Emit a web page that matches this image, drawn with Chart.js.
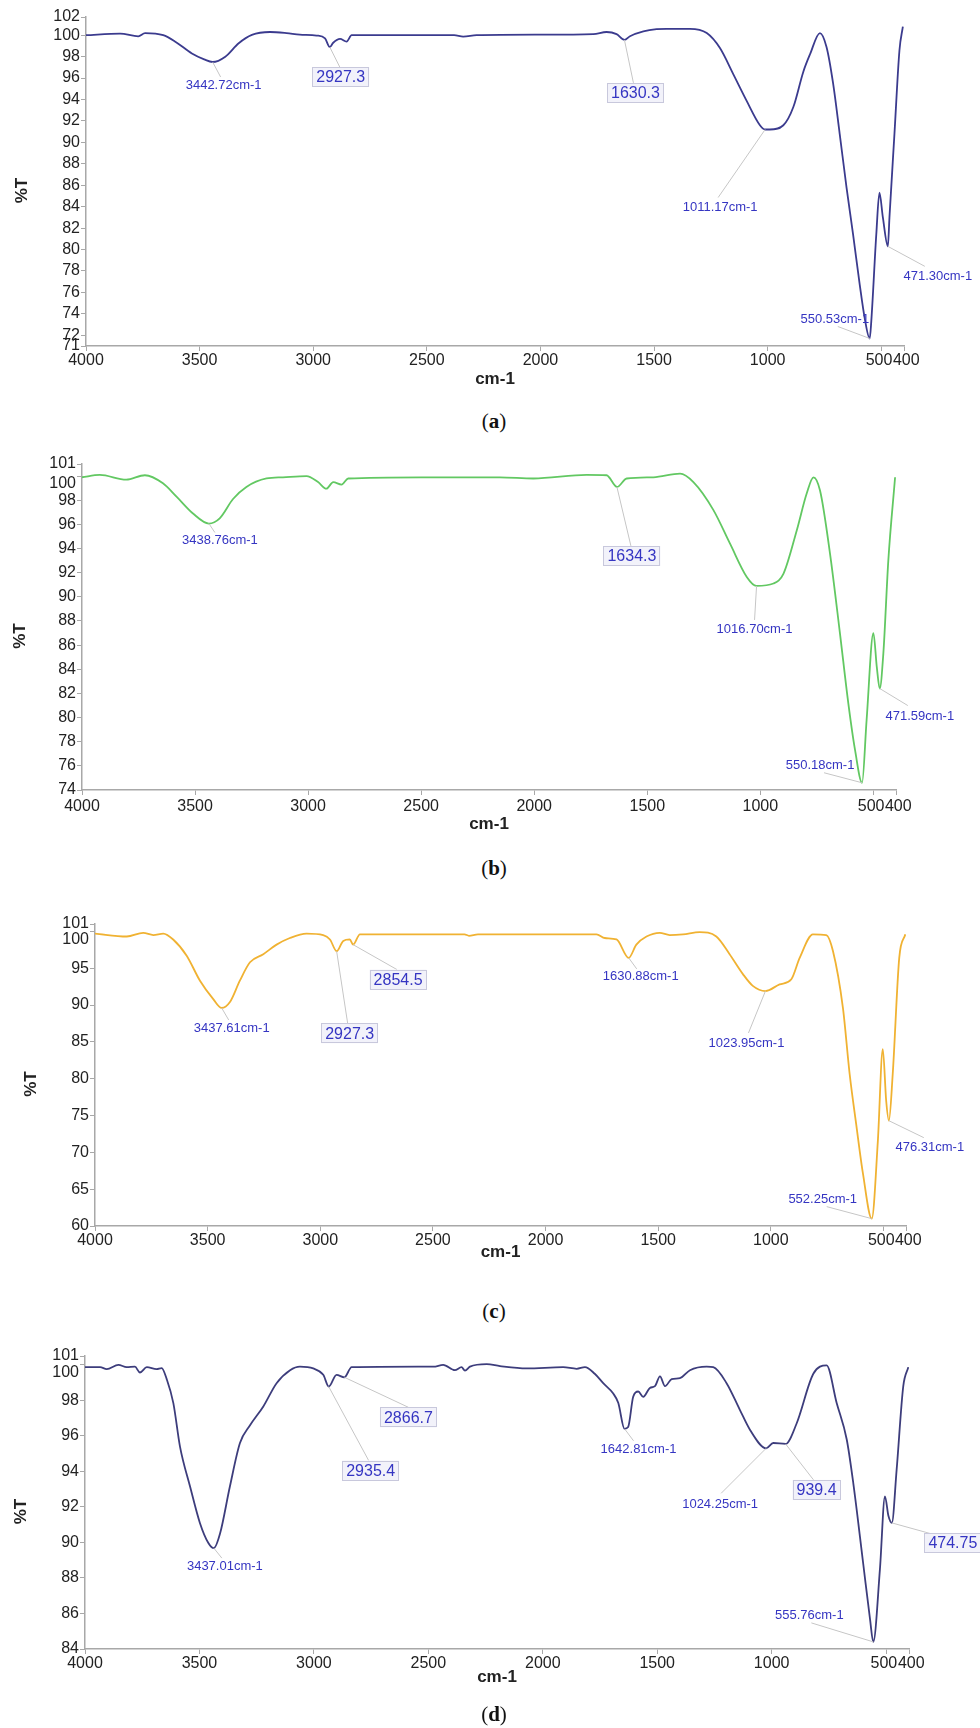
<!DOCTYPE html>
<html><head><meta charset="utf-8">
<script src="https://cdn.jsdelivr.net/npm/chart.js@4/dist/chart.umd.min.js"></script>
<style>
html,body{margin:0;padding:0;background:#fff}
body{width:980px;height:1728px;position:relative;overflow:hidden}
canvas{position:absolute;left:0}
.cap{position:absolute;left:0;width:988px;text-align:center;font-family:"Liberation Serif","Times New Roman",serif;font-size:21px;line-height:24px;color:#111}
</style></head><body>
<canvas id="ca" width="980" height="400" style="top:0px"></canvas>
<canvas id="cb" width="980" height="400" style="top:440px"></canvas>
<canvas id="cc" width="980" height="390" style="top:890px"></canvas>
<canvas id="cd" width="980" height="390" style="top:1330px"></canvas>
<div class="cap" style="top:409px">(<b>a</b>)</div>
<div class="cap" style="top:856px">(<b>b</b>)</div>
<div class="cap" style="top:1299px">(<b>c</b>)</div>
<div class="cap" style="top:1702px">(<b>d</b>)</div>
<script>
// ---------- data ----------
const xTicks = [4000,3500,3000,2500,2000,1500,1000,500,400];
const xTickText = ['4000','3500','3000','2500','2000','1500','1000','500 ',' 400'];

const wnA = [4000,3850,3770,3740,3660,3607,3534,3480,3443,3387,3328,3270,3190,3117,3059,2985,2948,2927,2912,2882,2853,2831,2600,2380,2340,2281,2000,1767,1709,1665,1630,1606,1547,1489,1445,1342,1268,1210,1152,1093,1034,1011,990,931,887,843,814,770,741,712,683,653,624,595,573,551,544,522,508,493,471,464,442,420,405];
const tA = [100.0,100.15,99.9,100.2,100.0,99.4,98.3,97.75,97.5,98.0,99.25,100.03,100.3,100.2,100.06,99.97,99.7,98.9,99.3,99.65,99.4,100.0,100.0,100.0,99.87,100.0,100.05,100.1,100.3,100.1,99.56,99.9,100.35,100.56,100.6,100.6,100.2,98.8,96.4,93.9,91.6,91.2,91.2,91.6,93.3,96.6,98.2,100.2,98.9,95.5,90.8,85.8,81.4,76.75,73.6,71.7,73.3,81.4,85.3,83.0,80.3,83.0,90.8,98.6,100.8];
const yTicksA = [71,72,74,76,78,80,82,84,86,88,90,92,94,96,98,100,101.7];
const yTextA = ['71','72','74','76','78','80','82','84','86','88','90','92','94','96','98','100','102'];
const peakWnA = [3442.72,2927.3,1630.3,1011.17,550.53,471.30];
const peakTA = [97.5,98.9,99.56,91.2,71.7,80.3];
const peakTextA = ['3442.72cm-1','2927.3','1630.3','1011.17cm-1','550.53cm-1','471.30cm-1'];

const wnB = [4000,3921,3804,3722,3642,3582,3509,3439,3391,3332,3273,3184,3111,3007,2956,2919,2889,2852,2823,2500,2152,2004,1768,1680,1634,1591,1473,1355,1296,1208,1134,1060,1017,942,898,839,795,765,736,692,648,611,581,550,530,500,485,472,456,434,404];
const tB = [99.9,100.1,99.7,100.07,99.4,98.3,96.9,96.07,96.5,98.1,99.1,99.8,99.9,100.0,99.5,98.96,99.5,99.3,99.8,99.9,99.9,99.8,100.1,100.07,99.1,99.8,99.9,100.2,99.5,97.2,94.4,91.65,90.9,91.1,91.9,95.5,98.55,99.9,98.8,93.6,87.0,81.2,77.3,74.6,79.8,87.0,84.2,82.4,85.3,93.0,99.9];
const yTicksB = [74,76,78,80,82,84,86,88,90,92,94,96,98,100,101];
const yTextB = ['74','76','78','80','82','84','86','88','90','92','94','96','98','100','101'];
const peakWnB = [3438.76,1634.3,1016.70,550.18,471.59];
const peakTB = [96.07,99.1,90.9,74.6,82.4];
const peakTextB = ['3438.76cm-1','1634.3','1016.70cm-1','550.18cm-1','471.59cm-1'];

const wnC = [4000,3859,3786,3741,3697,3653,3593,3534,3475,3438,3401,3357,3312,3253,3194,3135,3061,2987,2957,2927,2898,2869,2854,2824,2360,2340,2300,1967,1774,1737,1685,1631,1597,1552,1493,1449,1390,1316,1242,1183,1124,1080,1024,961,909,872,813,754,724,680,650,621,591,552,525,503,488,476,459,430,403];
const tC = [99.7,99.3,99.8,99.5,99.7,98.9,96.7,93.3,90.8,89.6,90.4,93.3,95.8,96.9,98.2,99.1,99.7,99.5,98.9,97.3,98.7,98.9,98.2,99.6,99.6,99.4,99.6,99.6,99.6,99.1,98.9,96.4,98.2,99.3,99.8,99.5,99.6,99.9,99.3,96.9,94.2,92.6,91.9,92.8,93.5,96.4,99.6,99.5,97.3,89.6,80.6,73.8,67.1,61.0,71.5,84.0,77.0,74.3,80.6,96.4,99.6];
const yTicksC = [60,65,70,75,80,85,90,95,100,101];
const yTextC = ['60','65','70','75','80','85','90','95','100','101'];
const peakWnC = [3437.61,2927.3,2854.5,1630.88,1023.95,552.25,476.31];
const peakTC = [89.6,97.3,98.2,96.4,91.9,61.0,74.3];
const peakTextC = ['3437.61cm-1','2927.3','2854.5','1630.88cm-1','1023.95cm-1','552.25cm-1','476.31cm-1'];

const wnD = [4000,3934,3905,3854,3818,3782,3760,3730,3687,3665,3643,3614,3585,3541,3498,3461,3437,3410,3367,3323,3279,3221,3163,3104,3061,3003,2959,2935,2901,2867,2835,2478,2435,2384,2355,2340,2318,2245,2187,2071,1911,1852,1816,1773,1736,1693,1670,1643,1627,1605,1583,1561,1532,1510,1488,1466,1437,1401,1357,1284,1255,1197,1139,1095,1024,993,939,891,818,760,716,672,643,600,570,556,527,505,490,475,454,425,403];
const tD = [99.87,99.87,99.76,100.0,99.87,99.9,99.57,99.87,99.76,99.82,99.2,97.85,95.4,93.15,91.1,89.97,89.68,90.5,93.15,95.6,96.6,97.66,98.97,99.7,99.9,99.8,99.44,98.78,99.44,99.3,99.87,99.9,100.0,99.7,99.87,99.68,99.9,100.04,99.93,99.8,99.87,99.78,99.87,99.5,98.97,98.4,97.85,96.4,96.5,98.2,98.5,98.2,98.7,98.8,99.35,98.8,99.2,99.25,99.7,99.9,99.87,98.97,97.47,96.35,95.3,95.6,95.55,96.7,99.5,99.97,97.85,95.8,93.3,88.8,85.65,84.4,88.5,92.6,91.5,91.1,94.1,98.8,99.87];
const yTicksD = [84,86,88,90,92,94,96,98,100,100.5];
const yTextD = ['84','86','88','90','92','94','96','98','100','101'];
const peakWnD = [3437.01,2935.4,2866.7,1642.81,1024.25,939.4,555.76,474.75];
const peakTD = [89.68,98.78,99.3,96.4,95.3,95.55,84.4,91.1];
const peakTextD = ['3437.01cm-1','2935.4','2866.7','1642.81cm-1','1024.25cm-1','939.4','555.76cm-1','474.75'];

// ---------- layout / style (label offsets in px from the peak: [labelDx, labelDy, leaderDx, leaderDy, boxed]) ----------
const layA = [[11,22,8,15,0],[11,30,10,20,1],[11,53,9,43,1],[-45,77,-47,68,0],[-35,-20,-32,-12,0],[50,29,37,20,0]];
const layB = [[11,15.5,6,9,0],[15,69,14,59,1],[-2,42,-2,34,0],[-42,-18,-38,-10,0],[40,27,28,17,0]];
const layC = [[10,19,7,12,0],[13,82,11,72,1],[45,35,44,25,1],[12,18,8,11,0],[-19,51,-17,42,0],[-49,-20,-45,-12,0],[41,26,35,17,0]];
const layD = [[11,17,8,10,0],[42,84,40,74,1],[64,40,64,30,1],[14,20,9,12,0],[-46,55,-45,45,0],[31,46,28,36,1],[-64,-27,-62,-19,0],[61,20,47,13,1]];

const FONT = '"Liberation Sans", Arial, sans-serif';

const peakPlugin = {
  id: 'peaks',
  afterDatasetsDraw(chart, args, opts) {
    const ctx = chart.ctx, xs = chart.scales.x, ys = chart.scales.y;
    ctx.save();
    (opts.items || []).forEach(p => {
      const ax = xs.getPixelForValue(p.wn), ay = ys.getPixelForValue(p.t);
      const [lx, ly, ex, ey, boxed] = p.lay;
      ctx.strokeStyle = '#c6c6c6'; ctx.lineWidth = 1;
      ctx.beginPath(); ctx.moveTo(ax, ay); ctx.lineTo(ax + ex, ay + ey); ctx.stroke();
      ctx.font = boxed ? '16px ' + FONT : '13px ' + FONT;
      ctx.textAlign = 'center'; ctx.textBaseline = 'middle';
      const cx = ax + lx, cy = ay + ly;
      if (boxed) {
        const w = ctx.measureText(p.text).width + 8, h = 20;
        ctx.fillStyle = '#f2f2fa'; ctx.fillRect(cx - w/2, cy - h/2, w, h);
        ctx.strokeStyle = '#c8c8dc'; ctx.strokeRect(Math.round(cx - w/2) + 0.5, Math.round(cy - h/2) + 0.5, Math.round(w) - 1, h - 1);
      }
      ctx.fillStyle = '#3535c2';
      ctx.fillText(p.text, cx, cy + 1);
    });
    // y-axis title
    const yt = opts.ytitle;
    if (yt) {
      ctx.save();
      ctx.translate(yt.x, (chart.chartArea.top + chart.chartArea.bottom) / 2 + yt.dy);
      ctx.rotate(-Math.PI / 2);
      ctx.font = 'bold 17px ' + FONT;
      ctx.fillStyle = '#222';
      ctx.textAlign = 'center'; ctx.textBaseline = 'middle';
      ctx.fillText(yt.text, 0, 0);
      ctx.restore();
    }
    ctx.restore();
  }
};

function makeChart(cfg) {
  const pts = cfg.wn.map((w, i) => ({x: w, y: cfg.t[i]}));
  const items = cfg.pwn.map((w, i) => ({wn: w, t: cfg.pt[i], text: cfg.ptext[i], lay: cfg.lay[i]}));
  new Chart(document.getElementById(cfg.id), {
    type: 'line',
    data: { datasets: [{ data: pts, borderColor: cfg.color, borderWidth: 1.8, pointRadius: 0, fill: false, cubicInterpolationMode: 'monotone' }] },
    options: {
      responsive: false, animation: false, devicePixelRatio: 1,
      layout: { padding: cfg.pad },
      plugins: { legend: {display: false}, tooltip: {enabled: false},
                 peaks: {items, ytitle: {text: '%T', x: cfg.ytx, dy: 9}} },
      scales: {
        x: {
          type: 'linear', reverse: true, min: 400, max: 4000,
          afterBuildTicks: s => { s.ticks = xTicks.map(v => ({value: v})); },
          afterFit: s => { s.height = cfg.xh; },
          grid: { drawOnChartArea: false, drawTicks: true, tickLength: 5, color: '#a8a8a8' },
          border: { color: '#a8a8a8', width: 1.5 },
          ticks: { autoSkip: false, maxRotation: 0, minRotation: 0, padding: cfg.xpad, color: '#222',
                   font: {family: FONT, size: 16}, callback: (v, i) => xTickText[i] },
          title: { display: true, text: 'cm-1', color: '#222', font: {family: FONT, size: 17, weight: 'bold'}, padding: {top: 0, bottom: 0} }
        },
        y: {
          type: 'linear', min: cfg.ymin, max: cfg.ymax,
          afterBuildTicks: s => { s.ticks = cfg.yt.map(v => ({value: v})); },
          afterFit: s => { s.width = cfg.yw; },
          grid: { drawOnChartArea: false, drawTicks: true, tickLength: 5, color: '#a8a8a8' },
          border: { color: '#a8a8a8', width: 1.5 },
          ticks: { autoSkip: false, padding: 1, color: '#222', font: {family: FONT, size: 16, lineHeight: 1.0},
                   callback: (v, i) => (cfg.nudge && cfg.yt[i] === 100) ? ['', cfg.ytext[i]] : cfg.ytext[i] },
          title: { display: false }
        }
      }
    },
    plugins: [peakPlugin]
  });
}

makeChart({id: 'ca', wn: wnA, t: tA, color: '#3b3b8e', ymin: 71, ymax: 101.7, yt: yTicksA, ytext: yTextA, nudge: false,
  pwn: peakWnA, pt: peakTA, ptext: peakTextA, lay: layA,
  pad: {top: 17, left: 0, right: 76, bottom: 10}, yw: 86, xh: 44, xpad: 0, ytx: 22});
makeChart({id: 'cb', wn: wnB, t: tB, color: '#62c862', ymin: 74, ymax: 101, yt: yTicksB, ytext: yTextB, nudge: true,
  pwn: peakWnB, pt: peakTB, ptext: peakTextB, lay: layB,
  pad: {top: 24, left: 0, right: 84, bottom: 5}, yw: 82, xh: 45, xpad: 2, ytx: 20});
makeChart({id: 'cc', wn: wnC, t: tC, color: '#f0b232', ymin: 60, ymax: 101, yt: yTicksC, ytext: yTextC, nudge: true,
  pwn: peakWnC, pt: peakTC, ptext: peakTextC, lay: layC,
  pad: {top: 34, left: 0, right: 74, bottom: 17}, yw: 95, xh: 37, xpad: 0, ytx: 31});
makeChart({id: 'cd', wn: wnD, t: tD, color: '#3d3d7c', ymin: 84, ymax: 100.5, yt: yTicksD, ytext: yTextD, nudge: true,
  pwn: peakWnD, pt: peakTD, ptext: peakTextD, lay: layD,
  pad: {top: 26, left: 0, right: 71, bottom: 32}, yw: 85, xh: 39, xpad: 0, ytx: 21});
</script>
</body></html>
